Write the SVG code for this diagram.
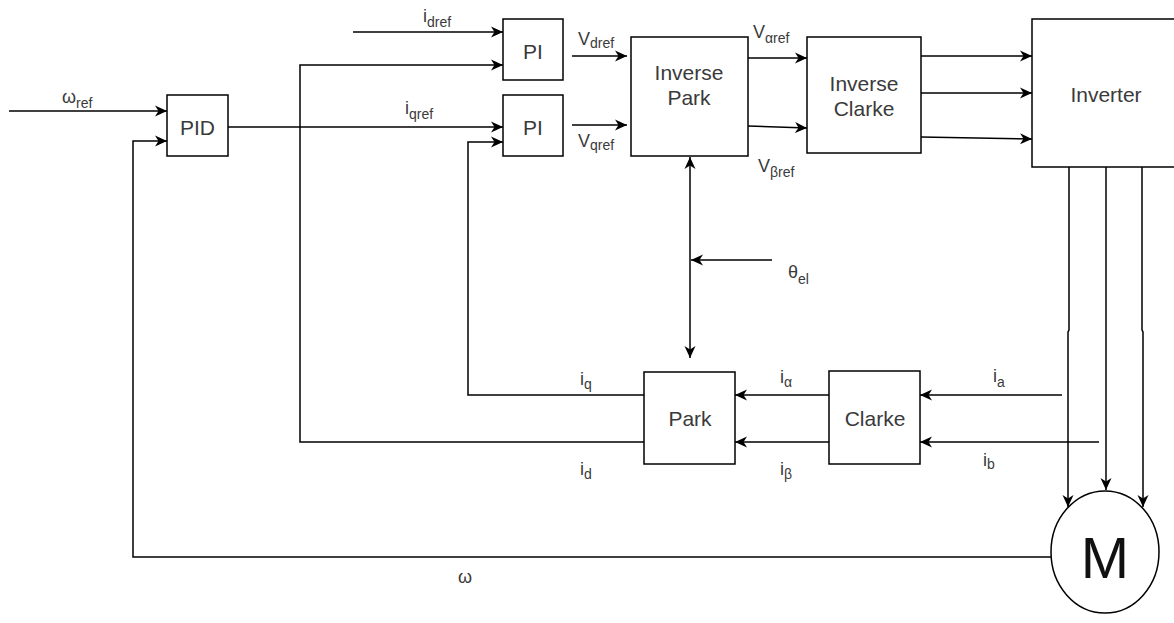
<svg xmlns="http://www.w3.org/2000/svg" width="1174" height="623" viewBox="0 0 1174 623">
<style>
.box{fill:#fff;stroke:#000;stroke-width:1.5}
.ln{fill:none;stroke:#000;stroke-width:1.5}
.ar{marker-end:url(#arr)}
text{font-family:"Liberation Sans",Arial,sans-serif;fill:#3a3a3a}
.t{font-size:21px;text-anchor:middle}
.l{font-size:18px}
.s{font-size:14px}
</style>
<defs>
<marker id="arr" markerUnits="userSpaceOnUse" markerWidth="13" markerHeight="12" refX="12" refY="6" orient="auto">
<path d="M0,0.5 L12,6 L0,11.5 L3.5,6 z" fill="#000"/>
</marker>
<marker id="arrs" markerUnits="userSpaceOnUse" markerWidth="13" markerHeight="12" refX="0" refY="6" orient="auto">
<path d="M12,0.5 L0,6 L12,11.5 L8.5,6 z" fill="#000"/>
</marker>
</defs>
<rect width="1174" height="623" fill="#fff"/>
<g id="connectors">
<path class="ln ar" d="M9,111 H167"/>
<path class="ln ar" d="M1051,557 H133 V141 H167"/>
<path class="ln ar" d="M228,127 H503"/>
<path class="ln ar" d="M353,32 H503"/>
<path class="ln ar" d="M644,442 H300 V65 H503"/>
<path class="ln ar" d="M644,395 H468 V142 H503"/>
<path class="ln ar" d="M572,56 H627"/>
<path class="ln ar" d="M572,125 H627"/>
<path class="ln ar" d="M748,58 H807"/>
<path class="ln ar" d="M748,126 L807,128"/>
<path class="ln ar" d="M921,56 H1032"/>
<path class="ln ar" d="M921,93 H1032"/>
<path class="ln ar" d="M921,137 L1032,139"/>
<path class="ln ar" d="M1069,167 V330 L1068,332 V507"/>
<path class="ln ar" d="M1106,167 V490"/>
<path class="ln ar" d="M1142,167 V330 L1143,332 V507"/>
<path class="ln ar" d="M1062,395 H920"/>
<path class="ln ar" d="M1099,442 H920"/>
<path class="ln ar" d="M829,395 H735"/>
<path class="ln ar" d="M829,442 H735"/>
<path class="ln ar" d="M772,260 H691"/>
<path class="ln ar" d="M690,157 V358" marker-start="url(#arrs)"/>
</g>
<g id="pid"><rect class="box" x="167" y="95" width="61" height="61"/><text class="t" x="197.5" y="135">PID</text></g>
<g id="pi_d"><rect class="box" x="503" y="19" width="60" height="61"/><text class="t" x="533" y="59">PI</text></g>
<g id="pi_q"><rect class="box" x="503" y="95" width="60" height="61"/><text class="t" x="533" y="135">PI</text></g>
<g id="inverse_park"><rect class="box" x="631" y="37" width="117" height="119"/><text class="t" x="689" y="80">Inverse</text><text class="t" x="689" y="105">Park</text></g>
<g id="inverse_clarke"><rect class="box" x="807" y="37" width="114" height="116"/><text class="t" x="864" y="91">Inverse</text><text class="t" x="864" y="116">Clarke</text></g>
<g id="inverter"><rect class="box" x="1032" y="19" width="150" height="148"/><text class="t" x="1106" y="102">Inverter</text></g>
<g id="park"><rect class="box" x="644" y="372" width="91" height="92"/><text class="t" x="690" y="426">Park</text></g>
<g id="clarke"><rect class="box" x="829" y="371" width="91" height="93"/><text class="t" x="875" y="426">Clarke</text></g>
<g id="motor"><ellipse class="box" cx="1105" cy="552" rx="54" ry="61"/><text x="1105" y="578" font-size="58" text-anchor="middle" style="fill:#111">M</text></g>
<g id="labels">
<text class="l" x="62" y="103">ω<tspan class="s" dy="5">ref</tspan></text>
<text class="l" x="423" y="22">i<tspan class="s" dy="5">dref</tspan></text>
<text class="l" x="405" y="114">i<tspan class="s" dy="5">qref</tspan></text>
<text class="l" x="578" y="45">V<tspan class="s" dy="3">dref</tspan></text>
<text class="l" x="578" y="147">V<tspan class="s" dy="3">qref</tspan></text>
<text class="l" x="753" y="38">V<tspan class="s" dy="5">αref</tspan></text>
<text class="l" x="758" y="172">V<tspan class="s" dy="5">βref</tspan></text>
<text class="l" x="788" y="278">θ<tspan class="s" dy="6">el</tspan></text>
<text class="l" x="580" y="385">i<tspan class="s" dy="4">q</tspan></text>
<text class="l" x="580" y="475">i<tspan class="s" dy="4">d</tspan></text>
<text class="l" x="780" y="383">i<tspan class="s" dy="4">α</tspan></text>
<text class="l" x="780" y="475">i<tspan class="s" dy="4">β</tspan></text>
<text class="l" x="993" y="382">i<tspan class="s" dy="5">a</tspan></text>
<text class="l" x="983" y="466">i<tspan class="s" dy="3">b</tspan></text>
<text class="l" x="458" y="583">ω</text>
</g>
</svg>
